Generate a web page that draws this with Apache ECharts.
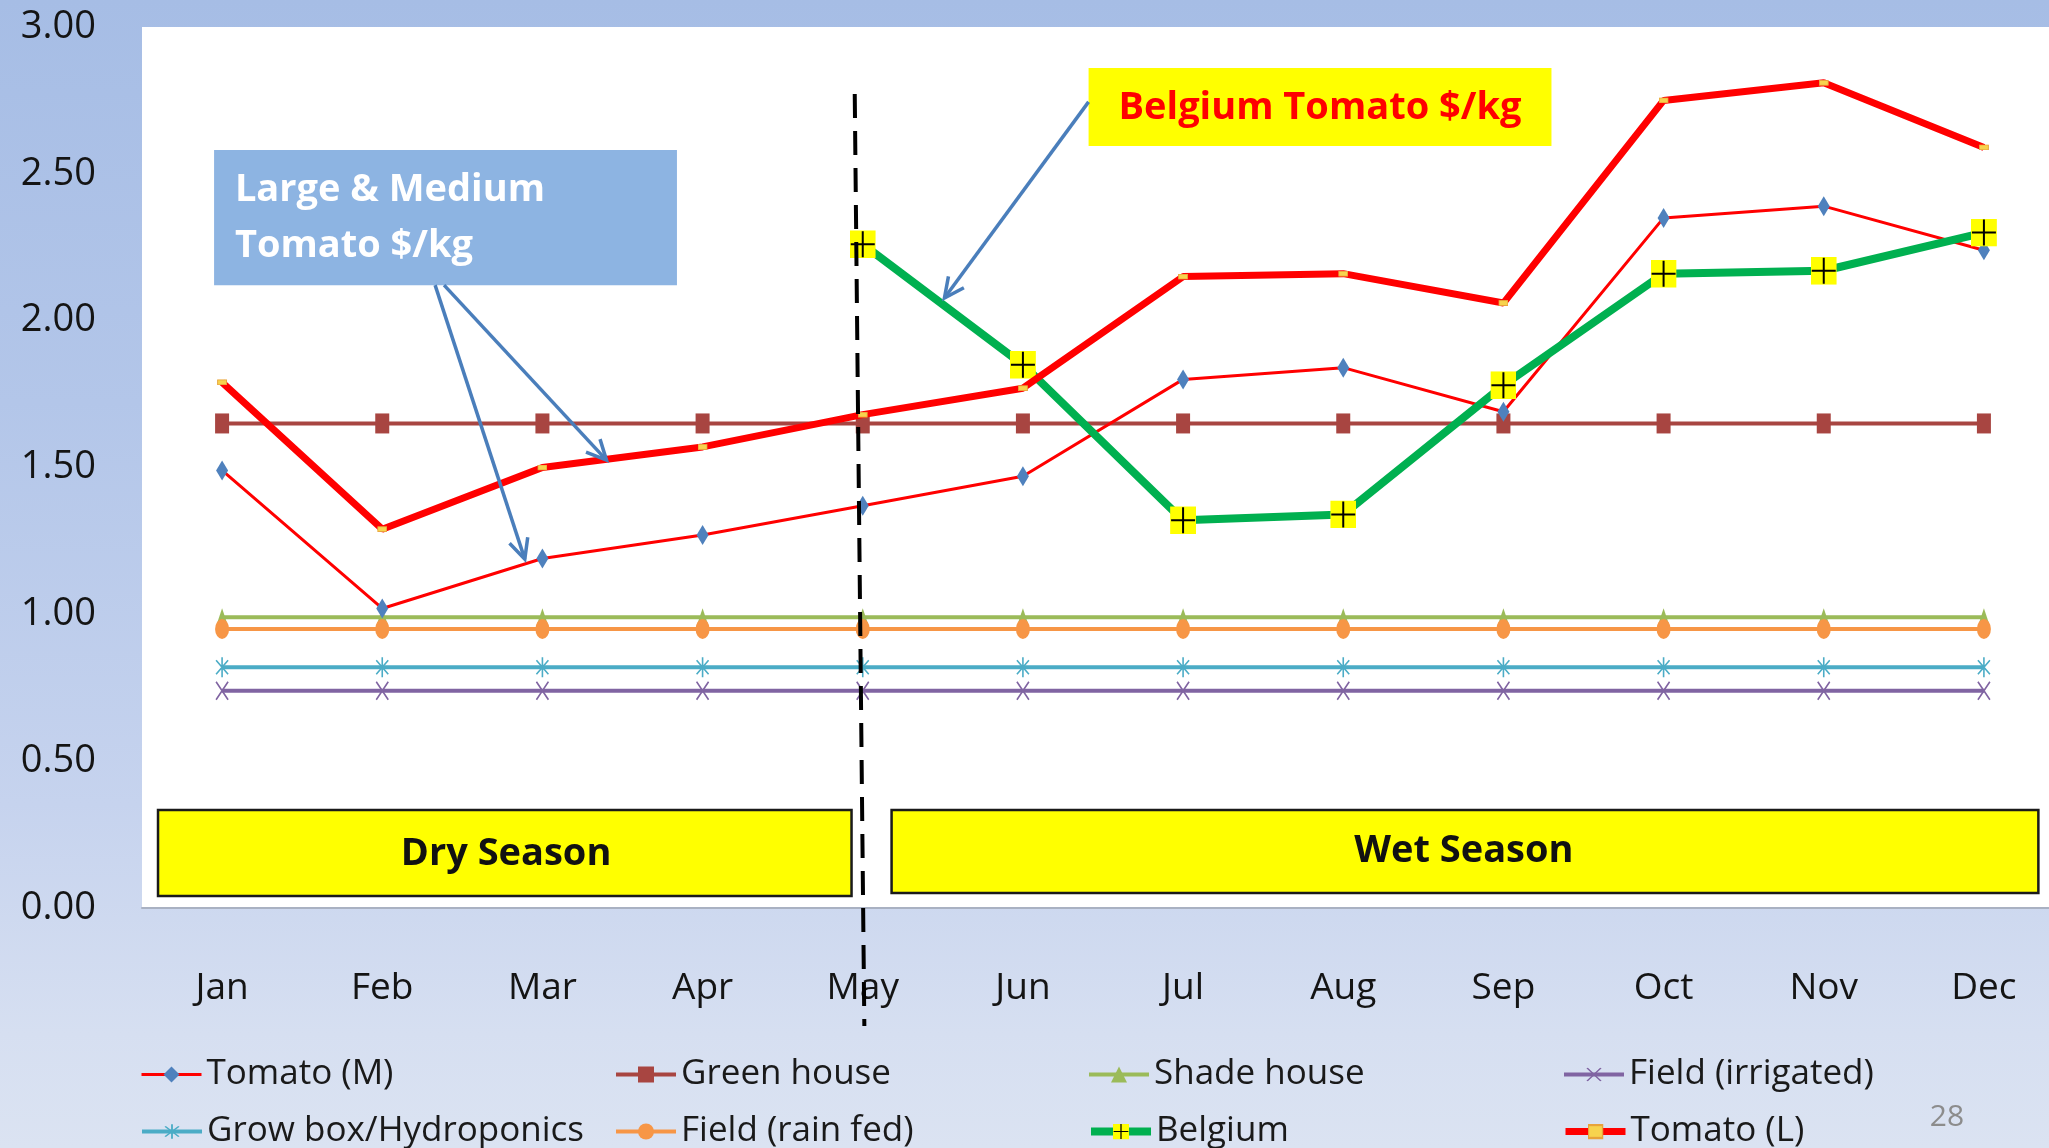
<!DOCTYPE html>
<html><head><meta charset="utf-8">
<script src="https://cdn.jsdelivr.net/npm/echarts@6/dist/echarts.min.js"></script>
<style>
html,body{margin:0;padding:0;overflow:hidden;}
#c{width:2049px;height:1148px;background:linear-gradient(180deg,#a6bde5 0%,#b3c6e9 35%,#c6d3ee 70%,#d6dff1 90%,#dbe3f2 100%);}
</style>
</head><body><div id="c"></div>
<script>
// ---- data ----
const months = ['Jan','Feb','Mar','Apr','May','Jun','Jul','Aug','Sep','Oct','Nov','Dec'];
const yTicks = [0, 0.5, 1.0, 1.5, 2.0, 2.5, 3.0];
const tomatoM    = [1.49, 1.02, 1.19, 1.27, 1.37, 1.47, 1.80, 1.84, 1.69, 2.35, 2.39, 2.24];
const greenHouse = [1.65, 1.65, 1.65, 1.65, 1.65, 1.65, 1.65, 1.65, 1.65, 1.65, 1.65, 1.65];
const shadeHouse = [0.99, 0.99, 0.99, 0.99, 0.99, 0.99, 0.99, 0.99, 0.99, 0.99, 0.99, 0.99];
const fieldIrrigated = [0.74, 0.74, 0.74, 0.74, 0.74, 0.74, 0.74, 0.74, 0.74, 0.74, 0.74, 0.74];
const growBox    = [0.82, 0.82, 0.82, 0.82, 0.82, 0.82, 0.82, 0.82, 0.82, 0.82, 0.82, 0.82];
const fieldRainFed = [0.95, 0.95, 0.95, 0.95, 0.95, 0.95, 0.95, 0.95, 0.95, 0.95, 0.95, 0.95];
const belgium    = [null, null, null, null, 2.26, 1.85, 1.32, 1.34, 1.78, 2.16, 2.17, 2.30];
const tomatoL    = [1.79, 1.29, 1.50, 1.57, 1.68, 1.77, 2.15, 2.16, 2.06, 2.75, 2.81, 2.59];
const seriesNames = ['Tomato (M)','Green house','Shade house','Field (irrigated)','Grow box/Hydroponics','Field (rain fed)','Belgium','Tomato (L)'];

// ---- styling ----
const FONT = '"Open Sans","Noto Sans",sans-serif';
function svgSym(s){ return 'image://data:image/svg+xml;charset=utf-8,' + encodeURIComponent(s); }
const belgSym = svgSym('<svg xmlns="http://www.w3.org/2000/svg" width="26" height="28" viewBox="0 0 26 28"><rect width="26" height="28" fill="#ffff00"/><path d="M13 1V27M1 14H25" stroke="#000" stroke-width="2" fill="none"/></svg>');
const starSym = svgSym('<svg xmlns="http://www.w3.org/2000/svg" width="14" height="22" viewBox="0 0 14 22"><path d="M7 1V21M1 4L13 18M13 4L1 18" stroke="#4bacc6" stroke-width="1.6" fill="none"/></svg>');
const xSym = svgSym('<svg xmlns="http://www.w3.org/2000/svg" width="14" height="22" viewBox="0 0 14 22"><path d="M1 2L13 20M13 2L1 20" stroke="#8064a2" stroke-width="1.6" fill="none"/></svg>');
const lSym = svgSym('<svg xmlns="http://www.w3.org/2000/svg" width="10" height="6" viewBox="0 0 10 6"><rect x="0.5" y="0.5" width="9" height="5" fill="#f7d34e" stroke="#e8a33a" stroke-width="1"/></svg>');

const lineWidths = [3, 4, 4, 4, 4, 4, 8, 7];
function lineSeries(name, data, color, width, symbol, size, symColor, z){
  return {name, type:'line', data, symbol, symbolSize:size, showSymbol:true, connectNulls:false,
    lineStyle:{color, width}, itemStyle:{color:symColor||color}, z:z||2, emphasis:{disabled:true}, animation:false};
}

const chart = echarts.init(document.getElementById('c'), null, {width:2049, height:1148});
const legendCols = [140, 614, 1087, 1562];
const legendRows = [1057, 1114];

chart.setOption({
  animation:false,
  backgroundColor:'transparent',
  grid:{left:142, top:27, width:1922, height:881, show:true, backgroundColor:'#ffffff', borderWidth:0,
    containLabel:false, outerBoundsMode:'none'},
  xAxis:{type:'category', data:months, boundaryGap:true,
    axisTick:{show:false}, axisLine:{show:true, lineStyle:{color:'#a9b1c2', width:2}},
    axisLabel:{margin:62, fontSize:37, color:'#141414', fontFamily:FONT, interval:0},
    splitLine:{show:false}},
  yAxis:{type:'value', min:yTicks[0], max:yTicks[yTicks.length-1], interval:0.5,
    axisLine:{show:false}, axisTick:{show:false}, splitLine:{show:false},
    axisLabel:{margin:46, fontSize:38, color:'#141414', fontFamily:FONT, formatter:v=>v.toFixed(2)}},
  legend: seriesNames.map((n,i)=>({data:[n], left:legendCols[i%4], top:legendRows[Math.floor(i/4)],
    itemWidth:60, itemHeight:20, padding:0, selectedMode:false,
    lineStyle:{width:lineWidths[i]},
    textStyle:{fontSize:35, color:'#1a1a1a', fontFamily:FONT}})),
  series:[
    lineSeries(seriesNames[0], tomatoM, '#ff0000', lineWidths[0], 'diamond', [12,20], '#4f81bd', 3),
    lineSeries(seriesNames[1], greenHouse, '#a84541', lineWidths[1], 'rect', [14,20], '#a84541', 2),
    lineSeries(seriesNames[2], shadeHouse, '#9bbb59', lineWidths[2], 'triangle', [12,18], '#9bbb59', 2),
    lineSeries(seriesNames[3], fieldIrrigated, '#8064a2', lineWidths[3], xSym, [14,22], '#8064a2', 2),
    lineSeries(seriesNames[4], growBox, '#4bacc6', lineWidths[4], starSym, [14,22], '#4bacc6', 2),
    lineSeries(seriesNames[5], fieldRainFed, '#f79646', lineWidths[5], 'circle', [14,20], '#f79646', 2),
    lineSeries(seriesNames[6], belgium, '#00b050', lineWidths[6], belgSym, [26,28], '#00b050', 4),
    lineSeries(seriesNames[7], tomatoL, '#ff0000', lineWidths[7], lSym, [10,6], '#f7d34e', 5)
  ]
});

// ---- annotations, anchored in data space (category index, value) ----
function P(xi, v){
  const a = chart.convertToPixel({gridIndex:0}, [0, v]);
  const b = chart.convertToPixel({gridIndex:0}, [1, v]);
  return [a[0] + (b[0]-a[0])*xi, a[1]];
}
function box(x0,v0,x1,v1, fill, stroke, lw){
  const p0 = P(x0,v0), p1 = P(x1,v1);
  return {type:'rect', z:50, shape:{x:p0[0], y:p0[1], width:p1[0]-p0[0], height:p1[1]-p0[1]},
    style:{fill, stroke:stroke||null, lineWidth:lw||0}};
}
function txt(xi,v,text,font,fill,align){
  const p = P(xi,v);
  return {type:'text', z:60, x:p[0], y:p[1], style:{text, font, fill, textAlign:align, align:align, textVerticalAlign:'middle', verticalAlign:'middle'}};
}
function arrow(xa,va,xb,vb,color){
  const a = P(xa,va), b = P(xb,vb);
  const ang = Math.atan2(b[1]-a[1], b[0]-a[0]);
  const L = 22, s = 0.45;
  const h1 = [b[0]-L*Math.cos(ang-s), b[1]-L*Math.sin(ang-s)];
  const h2 = [b[0]-L*Math.cos(ang+s), b[1]-L*Math.sin(ang+s)];
  return [
    {type:'line', z:55, shape:{x1:a[0],y1:a[1],x2:b[0],y2:b[1]}, style:{stroke:color, lineWidth:3.5}},
    {type:'polyline', z:55, shape:{points:[h1,b,h2]}, style:{stroke:color, lineWidth:3.5, fill:null, lineJoin:'miter'}}
  ];
}
const BOLD = 'bold 38px ' + FONT;
const g = [];
// blue annotation
g.push(box(-0.05, 2.581, 2.84, 2.121, '#8db4e2'));
g.push(txt(0.08, 2.445, 'Large & Medium', BOLD, '#ffffff', 'left'));
g.push(txt(0.08, 2.254, 'Tomato $/kg', BOLD, '#ffffff', 'left'));
g.push(...arrow(1.33, 2.121, 1.89, 1.188, '#4a7ebb'));
g.push(...arrow(1.386, 2.121, 2.40, 1.525, '#4a7ebb'));
// yellow Belgium annotation
g.push(box(5.41, 2.860, 8.30, 2.595, '#ffff00'));
g.push(txt(6.855, 2.724, 'Belgium Tomato $/kg', BOLD, '#ff0000', 'center'));
g.push(...arrow(5.41, 2.745, 4.51, 2.077, '#4a7ebb'));
// season boxes
g.push(box(-0.40, 0.334, 3.93, 0.041, '#ffff00', '#1a1a1a', 2.5));
g.push(txt(1.773, 0.183, 'Dry Season', BOLD, '#111111', 'center'));
g.push(box(4.18, 0.334, 11.34, 0.051, '#ffff00', '#1a1a1a', 2.5));
g.push(txt(7.753, 0.194, 'Wet Season', BOLD, '#111111', 'center'));
// dashed divider
const dTop = P(3.95, 2.772), dBot = P(4.01, -0.402);
g.push({type:'line', z:70, shape:{x1:dTop[0], y1:dTop[1], x2:dBot[0], y2:dBot[1]}, style:{stroke:'#000000', lineWidth:4, lineDash:[24,13]}});
// page number
g.push({type:'text', z:60, x:1947, y:1117, style:{text:'28', font:'30px ' + FONT, fill:'#8c8c8c', textAlign:'center', align:'center', textVerticalAlign:'middle', verticalAlign:'middle'}});
chart.setOption({graphic:g});
</script>
</body></html>
